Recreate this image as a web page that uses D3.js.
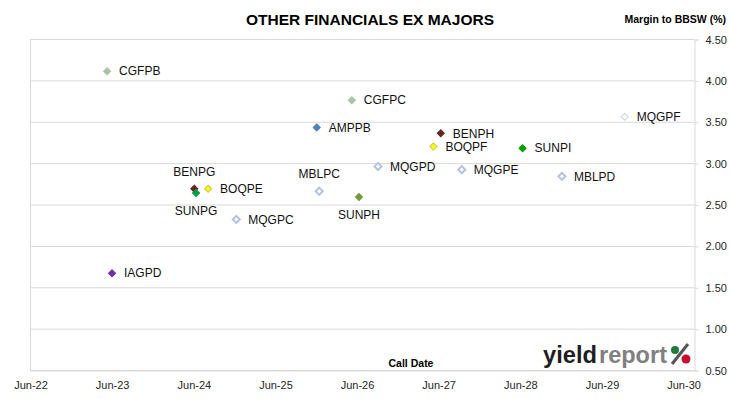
<!DOCTYPE html>
<html>
<head>
<meta charset="utf-8">
<script src="https://cdn.jsdelivr.net/npm/d3@7"></script>
<style>
  html, body { margin: 0; padding: 0; background: #fff; }
  svg { display: block; }
</style>
</head>
<body>
<svg id="chart" width="730" height="399"></svg>
<script>
// ---- Data ----
const securities = ["CGFPB","CGFPC","AMPPB","BENPH","BOQPF","SUNPI","MQGPF","MQGPD","MQGPE","MBLPD","MBLPC","SUNPH","BENPG","SUNPG","BOQPE","MQGPC","IAGPD"];
const callDates  = ["2023-05-12","2026-05-11","2025-12-05","2027-06-13","2027-05-11","2028-06-13","2029-09-13","2026-09-05","2027-09-15","2028-12-06","2025-12-16","2026-06-12","2024-06-05","2024-06-13","2024-08-06","2024-12-10","2023-06-03"];
const margins    = [4.11, 3.76, 3.43, 3.36, 3.20, 3.18, 3.56, 2.96, 2.92, 2.84, 2.66, 2.59, 2.69, 2.64, 2.69, 2.32, 1.67];
const yTicks     = [0.5, 1.0, 1.5, 2.0, 2.5, 3.0, 3.5, 4.0, 4.5];
const xTickDates = ["2022-06-01","2023-06-01","2024-06-01","2025-06-01","2026-06-01","2027-06-01","2028-06-01","2029-06-01","2030-06-01"];
const xDomain    = ["2022-06-01","2030-07-20"];

// ---- Styles (not data) ----
const markerStyle = {
  CGFPB: {fill:"#b3c87c", stroke:"#a6bdd6", w:1},
  CGFPC: {fill:"#b3c87c", stroke:"#a6bdd6", w:1},
  AMPPB: {fill:"#4f81bd", stroke:"#4f81bd", w:1},
  BENPH: {fill:"#632523", stroke:"#632523", w:1},
  BENPG: {fill:"#632523", stroke:"#632523", w:1},
  BOQPF: {fill:"#ffff00", stroke:"#c8c84a", w:1},
  BOQPE: {fill:"#ffff00", stroke:"#c8c84a", w:1},
  SUNPI: {fill:"#00a000", stroke:"#00a000", w:1},
  SUNPG: {fill:"#00a040", stroke:"#00a040", w:1},
  SUNPH: {fill:"#6e9a3a", stroke:"#6e9a3a", w:1},
  MQGPF: {fill:"#ffffff", stroke:"#c8d2e8", w:1},
  MQGPD: {fill:"#ffffff", stroke:"#b4c3e2", w:2},
  MQGPE: {fill:"#ffffff", stroke:"#b4c3e2", w:2},
  MQGPC: {fill:"#ffffff", stroke:"#b4c3e2", w:2},
  MBLPD: {fill:"#ffffff", stroke:"#b4c3e2", w:2},
  MBLPC: {fill:"#ffffff", stroke:"#b4c3e2", w:2},
  IAGPD: {fill:"#7030a0", stroke:"#7030a0", w:1}
};
const labelPlacement = { BENPG: "above", SUNPG: "below", MBLPC: "above", SUNPH: "below" };

const parse = d3.timeParse("%Y-%m-%d");
const points = securities.map((s, i) => ({ name: s, date: parse(callDates[i]), value: margins[i] }));

const svg = d3.select("#chart");
const pL = 30, pR = 694, pT = 39, pB = 370;
const x = d3.scaleTime().domain(xDomain.map(parse)).range([pL, pR]);
const y = d3.scaleLinear().domain([0.5, 4.5]).range([pB, pT]);

const gridColor = "#d9d9d9";
const labelFont = "'Liberation Sans Narrow', 'Liberation Sans', Arial, sans-serif";
const axisFont = "'Liberation Sans', Arial, sans-serif";

// gridlines
svg.append("g").selectAll("line").data(yTicks).join("line")
  .attr("x1", pL).attr("x2", pR)
  .attr("y1", d => y(d) + 0.5).attr("y2", d => y(d) + 0.5)
  .attr("stroke", gridColor).attr("stroke-width", 1);

// left border line
svg.append("line").attr("x1", pL + 0.5).attr("x2", pL + 0.5)
  .attr("y1", pT).attr("y2", pB).attr("stroke", gridColor);

// right y axis
const yAxis = d3.axisRight(y).tickValues(yTicks).tickFormat(d3.format(".2f")).tickSize(4).tickPadding(7);
const gy = svg.append("g").attr("transform", `translate(${pR + 0.5},0.5)`).call(yAxis);
gy.select(".domain").attr("stroke", gridColor);
gy.selectAll(".tick line").attr("stroke", gridColor);
gy.selectAll(".tick text").attr("fill", "#262626").style("font-family", axisFont).style("font-size", "11px");

// bottom x axis (labels only)
const xAxis = d3.axisBottom(x).tickValues(xTickDates.map(parse)).tickFormat(d3.timeFormat("%b-%y")).tickSize(0).tickPadding(11);
const gx = svg.append("g").attr("transform", `translate(0.5,${pB + 0.5})`).call(xAxis);
gx.select(".domain").attr("stroke", gridColor);
gx.selectAll(".tick text").attr("fill", "#262626").style("font-family", axisFont).style("font-size", "11px");

// markers
const sq = d3.symbol().type(d3.symbolSquare).size(25);
svg.append("g").selectAll("path").data(points).join("path")
  .attr("d", sq)
  .attr("transform", d => `translate(${x(d.date)},${y(d.value)}) rotate(45)`)
  .attr("fill", d => markerStyle[d.name].fill)
  .attr("stroke", d => markerStyle[d.name].stroke)
  .attr("stroke-width", d => markerStyle[d.name].w);

// labels
svg.append("g").selectAll("text").data(points).join("text")
  .text(d => d.name)
  .attr("x", d => {
    const p = labelPlacement[d.name];
    return p ? x(d.date) : x(d.date) + 12;
  })
  .attr("y", d => {
    const p = labelPlacement[d.name];
    if (p === "above") return y(d.value) - 16;
    if (p === "below") return y(d.value) + 19;
    return y(d.value) + 1;
  })
  .attr("text-anchor", d => labelPlacement[d.name] ? "middle" : "start")
  .attr("dominant-baseline", "middle")
  .style("font-family", labelFont).style("font-size", "12px").attr("fill", "#111");

// title
svg.append("text").text("OTHER FINANCIALS EX MAJORS")
  .attr("x", 370).attr("y", 25).attr("text-anchor", "middle")
  .style("font-family", axisFont).style("font-weight", "bold").style("font-size", "15.5px").attr("fill", "#000");

svg.append("text").text("Margin to BBSW (%)")
  .attr("x", 726).attr("y", 23).attr("text-anchor", "end")
  .style("font-family", axisFont).style("font-weight", "bold").style("font-size", "10.5px").attr("fill", "#000");

svg.append("text").text("Call Date")
  .attr("x", 411).attr("y", 367).attr("text-anchor", "middle")
  .style("font-family", axisFont).style("font-weight", "bold").style("font-size", "10.5px").attr("fill", "#000");

// logo
const logo = svg.append("g");
logo.append("text").text("yield").attr("x", 543).attr("y", 363)
  .attr("textLength", 54).attr("lengthAdjust", "spacingAndGlyphs")
  .style("font-family", axisFont).style("font-weight", "bold").style("font-size", "24px").attr("fill", "#1e1e1e");
logo.append("text").text("report").attr("x", 599).attr("y", 363)
  .attr("textLength", 68).attr("lengthAdjust", "spacingAndGlyphs")
  .style("font-family", axisFont).style("font-weight", "bold").style("font-size", "24px").attr("fill", "#808080");
logo.append("line").attr("x1", 672).attr("y1", 364).attr("x2", 688).attr("y2", 344)
  .attr("stroke", "#555").attr("stroke-width", 3);
logo.append("circle").attr("cx", 675).attr("cy", 350).attr("r", 4).attr("fill", "#1f7a3c");
logo.append("circle").attr("cx", 686).attr("cy", 359).attr("r", 4.5).attr("fill", "#c8102e");
</script>
</body>
</html>
